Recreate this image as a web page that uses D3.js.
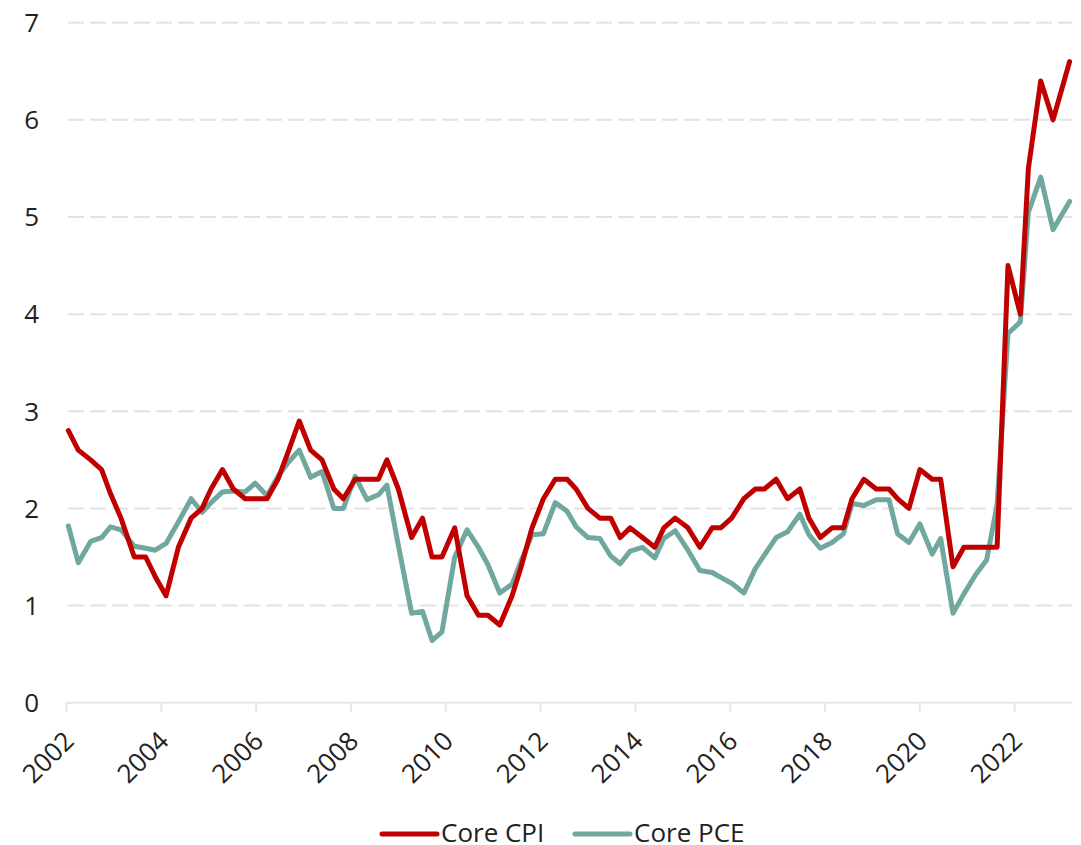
<!DOCTYPE html>
<html>
<head>
<meta charset="utf-8">
<script src="https://cdn.jsdelivr.net/npm/d3@7"></script>
<style>
  body { margin: 0; background: #fff; }
  svg { display: block; font-family: "Open Sans", sans-serif; }
</style>
</head>
<body>
<div id="chart"></div>
<script>
const dates = [
  2002.05, 2002.26, 2002.52, 2002.75, 2002.94, 2003.16, 2003.44, 2003.68, 2003.88, 2004.11,
  2004.37, 2004.64, 2004.87, 2005.06, 2005.30, 2005.53, 2005.78, 2005.99, 2006.24, 2006.47,
  2006.70, 2006.92, 2007.16, 2007.40, 2007.65, 2007.85, 2008.10, 2008.35, 2008.59, 2008.77,
  2009.01, 2009.29, 2009.52, 2009.72, 2009.93, 2010.20, 2010.46, 2010.70, 2010.90, 2011.15,
  2011.41, 2011.60, 2011.83, 2012.07, 2012.32, 2012.57, 2012.76, 2013.01, 2013.26, 2013.49,
  2013.69, 2013.90, 2014.16, 2014.42, 2014.61, 2014.85, 2015.12, 2015.37, 2015.63, 2015.81,
  2016.04, 2016.30, 2016.54, 2016.73, 2016.98, 2017.22, 2017.48, 2017.67, 2017.91, 2018.16,
  2018.40, 2018.58, 2018.83, 2019.09, 2019.36, 2019.54, 2019.78, 2020.01, 2020.27, 2020.45,
  2020.71, 2020.94, 2021.19, 2021.42, 2021.64, 2021.87, 2022.13, 2022.30, 2022.56, 2022.82,
  2023.17
];

const coreCPI = [
  2.8, 2.6, 2.5, 2.4, 2.15, 1.9, 1.5, 1.5, 1.3, 1.1,
  1.6, 1.9, 2.0, 2.2, 2.4, 2.2, 2.1, 2.1, 2.1, 2.3,
  2.6, 2.9, 2.6, 2.5, 2.2, 2.1, 2.3, 2.3, 2.3, 2.5,
  2.2, 1.7, 1.9, 1.5, 1.5, 1.8, 1.1, 0.9, 0.9, 0.8,
  1.1, 1.4, 1.8, 2.1, 2.3, 2.3, 2.2, 2.0, 1.9, 1.9,
  1.7, 1.8, 1.7, 1.6, 1.8, 1.9, 1.8, 1.6, 1.8, 1.8,
  1.9, 2.1, 2.2, 2.2, 2.3, 2.1, 2.2, 1.9, 1.7, 1.8,
  1.8, 2.1, 2.3, 2.2, 2.2, 2.1, 2.0, 2.4, 2.3, 2.3,
  1.4, 1.6, 1.6, 1.6, 1.6, 4.5, 4.0, 5.5, 6.4, 6.0,
  6.6
];

const corePCE = [
  1.82, 1.44, 1.66, 1.70, 1.81, 1.78, 1.61, 1.59, 1.57, 1.64,
  1.86, 2.10, 1.96, 2.06, 2.17, 2.18, 2.17, 2.26, 2.13, 2.33,
  2.48, 2.60, 2.32, 2.38, 2.00, 2.00, 2.33, 2.09, 2.14, 2.24,
  1.62, 0.92, 0.94, 0.64, 0.73, 1.50, 1.78, 1.60, 1.42, 1.13,
  1.22, 1.46, 1.73, 1.74, 2.06, 1.97, 1.81, 1.70, 1.69, 1.51,
  1.43, 1.56, 1.60, 1.49, 1.69, 1.77, 1.57, 1.36, 1.34, 1.29,
  1.23, 1.13, 1.38, 1.52, 1.70, 1.76, 1.94, 1.73, 1.59, 1.65,
  1.74, 2.05, 2.03, 2.09, 2.09, 1.74, 1.65, 1.84, 1.53, 1.69,
  0.92, 1.12, 1.32, 1.47, 2.04, 3.80, 3.92, 5.05, 5.41, 4.87,
  5.16
];

const yearTicks = [2002, 2004, 2006, 2008, 2010, 2012, 2014, 2016, 2018, 2020, 2022];
const yTicks = [0, 1, 2, 3, 4, 5, 6, 7];
const seriesNames = ["Core CPI", "Core PCE"];
const seriesColors = ["#c00000", "#70a89f"];

const width = 1081, height = 845;
const plotLeft = 66, plotRight = 1072, plotTop = 22.7, plotBottom = 702.7;

const svg = d3.select("#chart").append("svg")
  .attr("width", width)
  .attr("height", height);

const x = d3.scaleLinear().domain([2002, 2023.22]).range([plotLeft, plotRight]);
const y = d3.scaleLinear().domain([0, 7]).range([plotBottom, plotTop]);

// horizontal dashed grid
svg.append("g")
  .selectAll("line")
  .data(yTicks.filter(d => d > 0))
  .enter().append("line")
    .attr("x1", plotLeft + 2)
    .attr("x2", plotRight)
    .attr("y1", d => y(d))
    .attr("y2", d => y(d))
    .attr("stroke", "#e3e3e3")
    .attr("stroke-width", 2)
    .attr("stroke-dasharray", "16,6");

// y labels
svg.append("g")
  .selectAll("text")
  .data(yTicks)
  .enter().append("text")
    .attr("x", 39)
    .attr("y", d => y(d))
    .attr("dy", "0.36em")
    .attr("text-anchor", "end")
    .attr("font-size", 26)
    .attr("fill", "#222")
    .text(d => d);

// x axis
const xAxis = svg.append("g")
  .attr("transform", `translate(0, ${plotBottom})`)
  .call(d3.axisBottom(x).tickValues(yearTicks).tickSize(9).tickFormat(d3.format("d")));

xAxis.select(".domain")
  .attr("d", `M${plotLeft},0H${plotRight}`)
  .attr("stroke", "#e6e6e6")
  .attr("stroke-width", 2);
xAxis.selectAll(".tick line")
  .attr("stroke", "#e6e6e6")
  .attr("stroke-width", 2);
xAxis.selectAll(".tick text")
  .attr("font-size", 26)
  .attr("font-family", "Open Sans, sans-serif")
  .attr("fill", "#222")
  .attr("text-anchor", "end")
  .attr("y", 0)
  .attr("dy", 0)
  .attr("transform", "translate(9, 40) rotate(-45)");

// lines
const line = d3.line()
  .x((d, i) => x(dates[i]))
  .y(d => y(d));

[corePCE, coreCPI].forEach((vals, k) => {
  svg.append("path")
    .datum(vals)
    .attr("fill", "none")
    .attr("stroke", k === 0 ? seriesColors[1] : seriesColors[0])
    .attr("stroke-width", 5)
    .attr("stroke-linejoin", "round")
    .attr("stroke-linecap", "round")
    .attr("d", line);
});

// legend
const legendX = [382, 575];
const legend = svg.append("g");
seriesNames.forEach((name, i) => {
  const g = legend.append("g").attr("transform", `translate(${legendX[i]}, 834)`);
  g.append("line")
    .attr("x1", 0).attr("x2", 55)
    .attr("stroke", seriesColors[i])
    .attr("stroke-width", 5)
    .attr("stroke-linecap", "round");
  g.append("text")
    .attr("x", 59)
    .attr("y", 8)
    .attr("font-size", 26)
    .attr("fill", "#222")
    .text(name);
});
</script>
</body>
</html>
